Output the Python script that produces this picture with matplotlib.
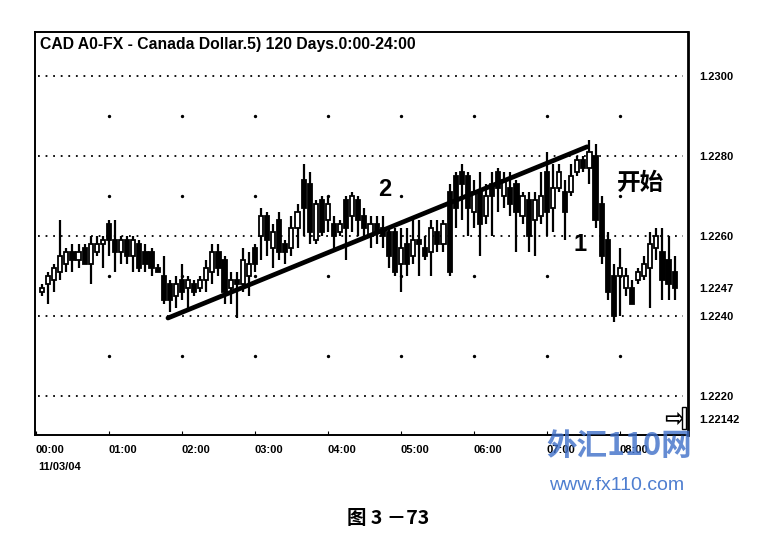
import matplotlib
matplotlib.use('Agg')
import matplotlib.pyplot as plt

# 5-minute bars, index 1 = 00:05, 12 bars per hour
opens = [1.2246, 1.2248, 1.2249, 1.2251, 1.2253, 1.2256, 1.2254, 1.2257, 1.2253, 1.2256,
         1.2258, 1.2263, 1.2259, 1.2256, 1.2259, 1.2255, 1.2258, 1.2256, 1.2256, 1.2252,
         1.2250, 1.2248, 1.2245, 1.2249, 1.2247, 1.2248, 1.2247, 1.2249, 1.2251, 1.2256,
         1.2254, 1.2247, 1.2249, 1.2248, 1.2250, 1.2257, 1.2260, 1.2265, 1.2257, 1.2264,
         1.2258, 1.2257, 1.2262, 1.2274, 1.2273, 1.2259, 1.2269, 1.2264, 1.2263, 1.2261,
         1.2269, 1.2265, 1.2269, 1.2265, 1.2260, 1.2263, 1.2262, 1.2261, 1.2261, 1.2253,
         1.2258, 1.2255, 1.2259, 1.2257, 1.2256, 1.2261, 1.2258, 1.2271, 1.2275, 1.2276,
         1.2275, 1.2266, 1.2271, 1.2265, 1.2273, 1.2276, 1.2270, 1.2272, 1.2273, 1.2265,
         1.2269, 1.2264, 1.2265, 1.2276, 1.2267, 1.2272, 1.2271, 1.2271, 1.2276, 1.2279,
         1.2277, 1.2280, 1.2268, 1.2259, 1.2250, 1.2250, 1.2247, 1.2247, 1.2249, 1.2250,
         1.2252, 1.2257, 1.2256, 1.2254, 1.2251]
highs = [1.2248, 1.2251, 1.2253, 1.2264, 1.2257, 1.2258, 1.2258, 1.2258, 1.2260, 1.2260,
         1.2260, 1.2264, 1.2264, 1.2260, 1.2260, 1.2260, 1.2259, 1.2258, 1.2257, 1.2253,
         1.2255, 1.2249, 1.2250, 1.2253, 1.2250, 1.2249, 1.2250, 1.2254, 1.2258, 1.2258,
         1.2255, 1.2251, 1.2251, 1.2257, 1.2256, 1.2258, 1.2267, 1.2266, 1.2263, 1.2266,
         1.2259, 1.2265, 1.2268, 1.2278, 1.2276, 1.2269, 1.2270, 1.2270, 1.2265, 1.2264,
         1.2270, 1.2271, 1.2270, 1.2267, 1.2265, 1.2265, 1.2265, 1.2262, 1.2262, 1.2262,
         1.2262, 1.2264, 1.2264, 1.2260, 1.2264, 1.2264, 1.2264, 1.2273, 1.2276, 1.2278,
         1.2276, 1.2274, 1.2276, 1.2273, 1.2276, 1.2277, 1.2276, 1.2276, 1.2274, 1.2271,
         1.2271, 1.2271, 1.2276, 1.2281, 1.2278, 1.2278, 1.2274, 1.2278, 1.2280, 1.2280,
         1.2284, 1.2283, 1.2270, 1.2261, 1.2253, 1.2257, 1.2252, 1.2249, 1.2252, 1.2255,
         1.2261, 1.2262, 1.2262, 1.2260, 1.2255]
lows = [1.2245, 1.2243, 1.2246, 1.2249, 1.2251, 1.2251, 1.2252, 1.2253, 1.2248, 1.2255,
        1.2252, 1.2255, 1.2251, 1.2253, 1.2253, 1.2251, 1.2251, 1.2251, 1.2250, 1.2251,
        1.2243, 1.2241, 1.2242, 1.2244, 1.2242, 1.2245, 1.2246, 1.2246, 1.2248, 1.2250,
        1.2243, 1.2243, 1.22395, 1.2246, 1.2245, 1.2251, 1.2254, 1.2255, 1.2252, 1.2254,
        1.2253, 1.2255, 1.2257, 1.2260, 1.2258, 1.2258, 1.2260, 1.2261, 1.2257, 1.2260,
        1.2254, 1.2261, 1.2260, 1.2259, 1.2257, 1.2258, 1.2257, 1.2252, 1.2250, 1.2246,
        1.2250, 1.2253, 1.2250, 1.2254, 1.2250, 1.2256, 1.2256, 1.2250, 1.2262, 1.2264,
        1.2260, 1.2262, 1.2255, 1.2263, 1.2260, 1.2266, 1.2267, 1.2265, 1.2256, 1.2263,
        1.2256, 1.2255, 1.2263, 1.2260, 1.2261, 1.2271, 1.2259, 1.2270, 1.2275, 1.2276,
        1.2273, 1.2262, 1.2253, 1.2244, 1.22385, 1.2240, 1.2245, 1.2243, 1.2248, 1.2249,
        1.2242, 1.2254, 1.2244, 1.2244, 1.2244]
closes = [1.2247, 1.2250, 1.2252, 1.2255, 1.2256, 1.2254, 1.2256, 1.2253, 1.2258, 1.2258,
          1.2259, 1.2259, 1.2256, 1.2259, 1.2255, 1.2259, 1.2252, 1.2253, 1.2252, 1.2251,
          1.2244, 1.2244, 1.2248, 1.2246, 1.2249, 1.2246, 1.2249, 1.2252, 1.2256, 1.2252,
          1.2246, 1.2249, 1.2248, 1.2254, 1.2253, 1.2253, 1.2265, 1.2259, 1.2261, 1.2256,
          1.2256, 1.2262, 1.2266, 1.2267, 1.2261, 1.2268, 1.2261, 1.2268, 1.2260, 1.2263,
          1.2262, 1.2270, 1.2264, 1.2262, 1.2263, 1.2261, 1.2260, 1.2255, 1.2251, 1.2257,
          1.2253, 1.2259, 1.2258, 1.2255, 1.2262, 1.2258, 1.2263, 1.2251, 1.2267, 1.2273,
          1.2267, 1.2271, 1.2263, 1.2270, 1.2270, 1.2272, 1.2274, 1.2268, 1.2266, 1.2270,
          1.2260, 1.2269, 1.2270, 1.2266, 1.2272, 1.2276, 1.2266, 1.2275, 1.2279, 1.2277,
          1.2281, 1.2264, 1.2255, 1.2246, 1.2240, 1.2252, 1.2250, 1.2243, 1.2251, 1.2253,
          1.2258, 1.2260, 1.2249, 1.2248, 1.2247]
bar_idx = list(range(1, len(opens) + 1))

# hand drawn trend line (bar index, price)
trend_x = [21.7, 90.6]
trend_y = [1.22395, 1.22823]

hour_labels = ['00:00', '01:00', '02:00', '03:00', '04:00', '05:00', '06:00', '07:00', '08:00']
hour_pos = [12 * h for h in range(len(hour_labels))]
grid_levels = [1.2300, 1.2280, 1.2260, 1.2240, 1.2220]
half_levels = [1.2290, 1.2270, 1.2250, 1.2230]
price_ticks = [1.2300, 1.2280, 1.2260, 1.2247, 1.2240, 1.2220, 1.22142]
price_labels = ['1.2300', '1.2280', '1.2260', '1.2247', '1.2240', '1.2220', '1.22142']

narrow = ['Liberation Sans', 'DejaVu Sans']
cjk = ['Noto Sans CJK SC', 'DejaVu Sans']

fig = plt.figure(figsize=(7.75, 5.48), dpi=100)
ax = fig.add_axes([35 / 775, 1 - 435 / 548, (688 - 35) / 775, (435 - 32) / 548])
ax.set_xlim(-0.16, 107.2)
ax.set_ylim(1.221025, 1.2311)

# grid
for lv in grid_levels:
    ax.plot([0.3, 106.3], [lv, lv], color='black', lw=1.3, ls=(0, (1, 3.2)), zorder=1)
for lv in half_levels:
    ax.scatter(hour_pos[1:], [lv] * (len(hour_pos) - 1), s=2, color='black', zorder=1)

# candles
for i, o, h, l, c in zip(bar_idx, opens, highs, lows, closes):
    ax.vlines(i, l, h, color='black', lw=1.6, zorder=2)
    lo, hi = min(o, c), max(o, c)
    if hi - lo < 0.00003:
        hi = lo + 0.00003
    face = 'white' if c > o else 'black'
    ax.bar(i, hi - lo, bottom=lo, width=0.68, color=face, edgecolor='black', lw=1.3, zorder=3)

ax.plot(trend_x, trend_y, color='black', lw=3.4, solid_capstyle='round', zorder=4)

ax.text(57.4, 1.22715, '2', fontsize=17, fontweight='bold', ha='center', va='center', family=narrow)
ax.text(89.5, 1.22578, '1', fontsize=17, fontweight='bold', ha='center', va='center', family=narrow)
ax.text(99.4, 1.22733, '开始', fontsize=17, fontweight='bold', ha='center', va='center', family=cjk)
ax.text(104.9, 1.22142, '⇨', fontsize=17, fontweight='bold', ha='center', va='center')
ax.bar(106.5, 0.00055, bottom=1.22118, width=0.6, color='white', edgecolor='black', lw=1.0, zorder=5)

# axes look
for s in ['left', 'top', 'bottom']:
    ax.spines[s].set_linewidth(1.4)
ax.spines['right'].set_linewidth(2.0)

ax.set_xticks(hour_pos)
ax.set_xticklabels(hour_labels, ha='left', fontsize=8, fontweight='bold', family=narrow)
ax.tick_params(axis='x', direction='in', length=3, pad=7)
ax.yaxis.tick_right()
ax.set_yticks(price_ticks)
ax.set_yticklabels(price_labels, fontsize=8, fontweight='bold', family=narrow)
ax.tick_params(axis='y', length=0, pad=8)

fig.text(40 / 775, 1 - 44 / 548, 'CAD A0-FX - Canada Dollar.5) 120 Days.0:00-24:00',
         fontsize=11.3, fontweight='bold', va='center', ha='left', family=narrow)
fig.text(38 / 775, 1 - 467 / 548, '11/03/04', fontsize=8, fontweight='bold',
         va='center', ha='left', family=narrow)
fig.text(388 / 775, 1 - 518 / 548, '图 3 －73', fontsize=14, fontweight='bold',
         va='center', ha='center', family=cjk)

# watermark
fig.text(619 / 775, 1 - 446 / 548, '外汇110网', fontsize=22, fontweight='bold', style='italic',
         color='#3f6fc8', alpha=0.8, va='center', ha='center', family=cjk, zorder=10)
fig.text(617 / 775, 1 - 486 / 548, 'www.fx110.com', fontsize=14, color='#4f7fd0',
         va='center', ha='center', family=['Liberation Sans', 'DejaVu Sans'], zorder=10)

fig.savefig('out.png', dpi=100)
